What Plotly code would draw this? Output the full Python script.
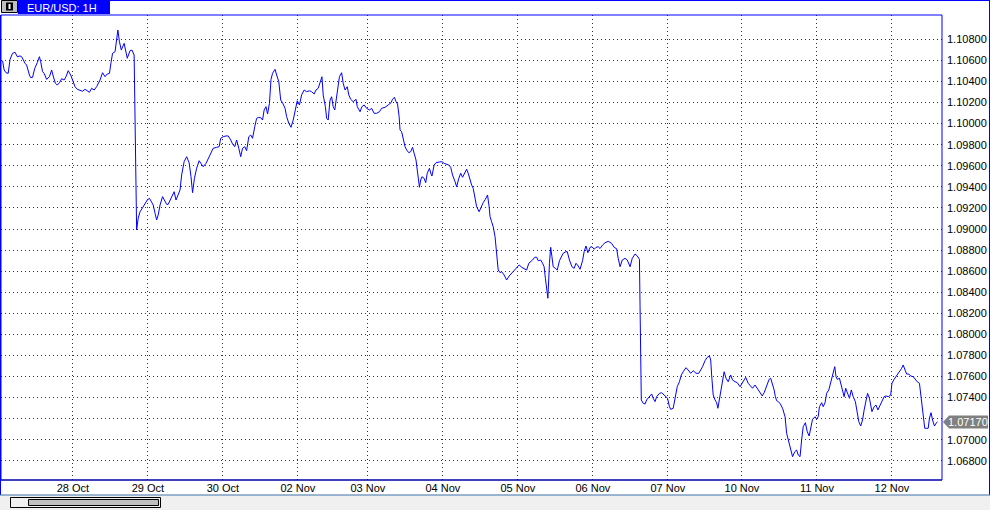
import plotly.graph_objects as go

# ---------------- data ----------------
# x: hourly bar position, y: EUR/USD close
hours = [
 0.5,1.0,1.6,2.3,2.9,3.7,4.5,5.2,6.1,6.6,7.7,8.2,9.1,9.5,10.1,10.8,11.6,12.3,12.7,13.3,
 13.8,14.6,15.5,16.2,16.7,17.4,18.0,18.7,19.4,20.2,20.8,21.5,22.3,22.9,23.7,24.4,25.3,26.1,26.9,27.6,
 28.3,29.0,29.8,30.6,31.7,32.5,33.3,34.0,34.7,35.2,35.7,36.5,37.0,37.4,37.9,38.5,39.4,39.8,40.4,41.3,
 41.9,42.6,42.8,43.0,43.4,43.9,44.5,45.3,46.1,46.8,47.5,48.0,48.7,49.3,49.8,50.3,50.9,51.7,52.5,53.0,
 53.5,54.3,55.4,56.0,56.7,57.3,57.8,58.6,59.4,60.2,60.8,61.3,61.9,62.6,63.4,64.0,64.7,65.6,66.3,67.1,
 67.9,69.0,69.8,70.3,71.1,72.0,72.7,73.5,74.1,74.8,75.4,76.1,76.7,77.3,78.0,78.6,79.3,79.9,80.5,81.2,
 81.8,82.5,83.1,83.7,84.2,84.8,85.3,85.9,86.4,86.9,87.7,88.2,88.9,89.5,90.1,90.9,91.4,92.1,92.8,93.5,
 94.2,94.8,95.5,96.2,97.0,97.8,98.7,99.4,100.2,100.8,101.5,102.1,102.7,103.1,103.8,104.2,104.7,105.1,105.3,105.8,
 106.3,106.8,107.4,108.3,109.0,109.5,110.1,110.8,111.3,111.9,112.7,113.6,114.0,114.9,115.5,116.2,117.0,117.9,118.6,119.4,
 120.2,121.1,121.8,122.9,123.9,124.8,125.3,125.9,126.4,126.9,127.4,127.7,128.2,128.7,129.3,129.8,130.5,131.1,131.7,132.2,
 132.8,133.2,133.7,133.9,134.3,134.7,135.4,135.9,136.4,137.1,137.6,137.9,138.6,139.2,140.3,141.1,141.8,142.6,143.3,143.9,
 144.5,145.3,145.8,146.5,147.1,147.7,148.5,149.0,149.5,150.1,150.6,151.1,151.7,152.2,153.0,153.6,154.3,155.0,155.7,156.2,
 156.5,157.0,157.5,158.1,158.6,159.1,159.7,160.2,161.0,161.8,162.6,163.4,164.3,165.0,165.8,166.6,167.4,168.2,168.9,169.5,
 170.1,170.8,171.4,171.9,172.7,173.3,173.8,174.2,174.6,175.0,175.5,175.9,176.3,176.7,177.4,178.0,178.7,179.3,179.9,180.8,
 181.2,181.9,182.7,183.4,184.0,184.7,185.3,186.1,186.6,187.2,187.8,188.5,189.1,189.8,190.4,191.1,191.7,192.5,193.3,194.3,
 195.4,196.2,197.0,197.5,198.1,198.8,199.7,200.4,201.3,202.0,202.9,203.6,204.3,204.5,204.7,204.9,205.5,206.1,206.6,207.1,
 207.7,208.2,208.7,209.3,209.8,210.7,211.4,212.2,212.8,213.3,213.9,214.3,215.1,215.8,216.4,217.1,217.7,218.3,219.2,219.9,
 220.7,221.5,222.4,223.3,224.0,224.5,225.3,226.0,226.7,227.1,227.4,227.9,228.5,229.0,229.4,229.9,230.3,230.9,231.4,232.0,
 232.7,233.5,234.1,234.9,235.6,236.5,237.3,238.3,239.1,239.9,240.5,241.3,242.0,242.9,243.6,244.2,244.7,245.2,245.8,246.3,
 246.8,247.4,247.8,248.2,248.7,249.3,250.1,250.9,251.4,252.1,252.7,253.3,254.0,254.6,255.1,255.7,256.2,256.7,257.4,258.0,
 258.6,259.1,259.7,260.5,261.0,261.5,261.9,262.6,263.1,263.7,264.2,264.9,265.3,265.8,266.3,266.8,267.2,267.6,268.3,268.7,
 269.2,269.8,270.3,270.8,271.5,272.1,272.7,273.4,273.8,274.5,275.1,275.7,276.2,276.8,277.3,277.9,278.3,278.7,279.4,280.0,
 280.6,281.3,281.9,282.6,283.2,283.9,284.7,285.1,285.8,286.4,287.1,287.7,288.2,288.7,289.3,289.8,290.5,291.1,291.9,292.6,
 293.2,293.9,294.3,294.7,295.1,295.6,296.2,296.7,297.1,297.6,298.1,298.7,299.2,299.7,
]
prices = [
 1.10597,1.10509,1.10483,1.10477,1.10610,1.10667,1.10677,1.10635,1.10642,1.10635,1.10572,1.10556,1.10461,1.10436,1.10439,1.10525,1.10578,1.10635,1.10587,1.10493,
 1.10477,1.10420,1.10445,1.10509,1.10452,1.10383,1.10366,1.10388,1.10426,1.10414,1.10445,1.10502,1.10461,1.10407,1.10350,1.10326,1.10312,1.10307,1.10326,1.10307,
 1.10297,1.10335,1.10319,1.10350,1.10414,1.10483,1.10445,1.10471,1.10477,1.10578,1.10667,1.10682,1.10809,1.10888,1.10777,1.10698,1.10762,1.10705,1.10620,1.10692,
 1.10698,1.10651,1.10098,1.09529,1.08991,1.09102,1.09164,1.09202,1.09244,1.09275,1.09291,1.09259,1.09228,1.09149,1.09086,1.09133,1.09228,1.09307,1.09259,1.09234,
 1.09234,1.09291,1.09354,1.09275,1.09323,1.09370,1.09512,1.09639,1.09686,1.09629,1.09496,1.09345,1.09481,1.09576,1.09648,1.09623,1.09591,1.09623,1.09671,1.09724,
 1.09766,1.09775,1.09781,1.09861,1.09876,1.09883,1.09883,1.09845,1.09807,1.09781,1.09845,1.09766,1.09686,1.09766,1.09781,1.09743,1.09876,1.09892,1.09861,1.09971,
 1.10050,1.10060,1.10056,1.10034,1.10129,1.10161,1.10091,1.10193,1.10420,1.10477,1.10515,1.10461,1.10398,1.10224,1.10198,1.10145,1.10066,1.10003,1.09965,1.10034,
 1.10129,1.10217,1.10177,1.10272,1.10319,1.10303,1.10312,1.10303,1.10281,1.10319,1.10335,1.10398,1.10445,1.10272,1.10161,1.10050,1.10034,1.10167,1.10224,1.10255,
 1.10161,1.10129,1.10272,1.10445,1.10483,1.10383,1.10319,1.10350,1.10272,1.10231,1.10208,1.10231,1.10161,1.10113,1.10161,1.10177,1.10145,1.10129,1.10145,1.10098,
 1.10098,1.10113,1.10145,1.10155,1.10177,1.10198,1.10231,1.10250,1.10208,1.10186,1.10066,1.09939,1.09923,1.09861,1.09781,1.09750,1.09724,1.09734,1.09775,1.09718,
 1.09655,1.09560,1.09449,1.09396,1.09465,1.09496,1.09481,1.09439,1.09529,1.09576,1.09522,1.09503,1.09607,1.09629,1.09636,1.09639,1.09623,1.09617,1.09607,1.09586,
 1.09512,1.09449,1.09401,1.09481,1.09529,1.09491,1.09544,1.09567,1.09529,1.09465,1.09418,1.09386,1.09307,1.09212,1.09164,1.09212,1.09250,1.09282,1.09323,1.09212,
 1.09117,1.09069,1.09022,1.08927,1.08785,1.08611,1.08586,1.08595,1.08564,1.08516,1.08554,1.08580,1.08611,1.08637,1.08659,1.08637,1.08627,1.08611,1.08675,1.08690,
 1.08706,1.08732,1.08732,1.08699,1.08706,1.08675,1.08642,1.08532,1.08421,1.08343,1.08675,1.08826,1.08737,1.08642,1.08627,1.08611,1.08699,1.08737,1.08770,1.08785,
 1.08785,1.08706,1.08642,1.08627,1.08675,1.08649,1.08618,1.08699,1.08785,1.08839,1.08775,1.08826,1.08832,1.08808,1.08826,1.08832,1.08815,1.08848,1.08870,1.08883,
 1.08864,1.08826,1.08813,1.08722,1.08642,1.08706,1.08722,1.08706,1.08642,1.08722,1.08763,1.08744,1.08713,1.08263,1.07789,1.07378,1.07346,1.07340,1.07378,1.07394,
 1.07409,1.07435,1.07394,1.07362,1.07409,1.07441,1.07447,1.07425,1.07416,1.07394,1.07314,1.07289,1.07299,1.07394,1.07504,1.07551,1.07615,1.07646,1.07684,1.07662,
 1.07631,1.07656,1.07631,1.07631,1.07662,1.07694,1.07751,1.07783,1.07795,1.07757,1.07615,1.07425,1.07378,1.07352,1.07299,1.07378,1.07441,1.07536,1.07646,1.07584,
 1.07551,1.07615,1.07567,1.07551,1.07542,1.07504,1.07542,1.07593,1.07536,1.07504,1.07489,1.07520,1.07489,1.07456,1.07416,1.07447,1.07489,1.07520,1.07574,1.07584,
 1.07536,1.07473,1.07409,1.07371,1.07362,1.07346,1.07299,1.07219,1.07062,1.06982,1.06935,1.06840,1.06887,1.06903,1.06856,1.06840,1.06998,1.07124,1.07162,1.07077,
 1.07036,1.07124,1.07195,1.07219,1.07195,1.07219,1.07314,1.07352,1.07314,1.07352,1.07441,1.07473,1.07520,1.07599,1.07646,1.07694,1.07599,1.07574,1.07584,1.07536,
 1.07473,1.07409,1.07489,1.07441,1.07394,1.07473,1.07409,1.07362,1.07283,1.07172,1.07131,1.07188,1.07283,1.07378,1.07441,1.07394,1.07330,1.07267,1.07314,1.07330,
 1.07283,1.07330,1.07378,1.07409,1.07416,1.07409,1.07425,1.07536,1.07574,1.07599,1.07631,1.07646,1.07678,1.07710,1.07662,1.07624,1.07624,1.07605,1.07599,1.07567,
 1.07551,1.07536,1.07441,1.07362,1.07219,1.07109,1.07109,1.07109,1.07204,1.07257,1.07188,1.07131,1.07157,1.07170,
]

day_positions = [23.0, 47.0, 71.0, 95.0, 117.4, 141.4, 165.4, 189.4, 213.4, 237.1, 261.1, 285.1]
day_labels = ["28 Oct", "29 Oct", "30 Oct", "02 Nov", "03 Nov", "04 Nov",
              "05 Nov", "06 Nov", "07 Nov", "10 Nov", "11 Nov", "12 Nov"]
price_ticks = [round(1.068 + 0.002 * k, 3) for k in range(21)]
last_price = 1.07170
symbol_title = "EUR/USD: 1H"
# the label hidden behind the last-price tag is left blank
price_tick_labels = ["" if abs(v - last_price) < 0.001 else f"{v:.5f}" for v in price_ticks]

# ---------------- layout helpers (pixel -> paper) ----------------
W, H = 990, 510
L, R, T, B = 1, 48, 15, 30
PW, PH = W - L - R, H - T - B


def px(x):
    return (x - L) / PW


def py(y):
    return (H - B - y) / PH


BLUE = "#0000FF"
FONT = "Liberation Sans, Arial, sans-serif"

fig = go.Figure()
fig.add_trace(go.Scatter(x=hours, y=prices, mode="lines",
                         line=dict(color=BLUE, width=1), hoverinfo="skip"))

shapes = []
# plot frame
shapes.append(dict(type="rect", xref="paper", yref="paper", x0=0, x1=1, y0=0, y1=1,
                   line=dict(color=BLUE, width=1), layer="above"))
shapes.append(dict(type="line", xref="paper", yref="paper", x0=px(0), x1=1, y0=0, y1=0,
                   line=dict(color="#000080", width=1)))
# outer borders
shapes.append(dict(type="line", xref="paper", yref="paper", x0=px(989.5), x1=px(989.5),
                   y0=py(0), y1=py(495), line=dict(color=BLUE, width=1)))
shapes.append(dict(type="line", xref="paper", yref="paper", x0=px(0.5), x1=px(0.5),
                   y0=py(15), y1=py(495), line=dict(color=BLUE, width=1)))
shapes.append(dict(type="line", xref="paper", yref="paper", x0=px(110), x1=px(990),
                   y0=py(0.5), y1=py(0.5), line=dict(color=BLUE, width=1)))
# bottom gray strip and separator
shapes.append(dict(type="rect", xref="paper", yref="paper", x0=px(0), x1=px(990),
                   y0=py(495.5), y1=py(511), fillcolor="#F0F0F0", line=dict(width=0)))
shapes.append(dict(type="line", xref="paper", yref="paper", x0=px(0), x1=px(990),
                   y0=py(495), y1=py(495), line=dict(color="#3A6EA5", width=1)))
# scrollbar
shapes.append(dict(type="rect", xref="paper", yref="paper", x0=px(10.5), x1=px(160.5),
                   y0=py(497.5), y1=py(507.5), fillcolor="#F0F0F0",
                   line=dict(color="#000000", width=1)))
shapes.append(dict(type="rect", xref="paper", yref="paper", x0=px(28.5), x1=px(158.5),
                   y0=py(499.5), y1=py(505.5), fillcolor="#C0C0C0",
                   line=dict(color="#000000", width=1)))
# header: icon and tab
shapes.append(dict(type="rect", xref="paper", yref="paper", x0=px(1.5), x1=px(17.5),
                   y0=py(0.5), y1=py(12.5), fillcolor="#C0C0C0",
                   line=dict(color="#000000", width=1)))
shapes.append(dict(type="rect", xref="paper", yref="paper", x0=px(6), x1=px(13),
                   y0=py(2.5), y1=py(10.5), fillcolor="#000000", line=dict(width=0)))
shapes.append(dict(type="rect", xref="paper", yref="paper", x0=px(8.5), x1=px(10.5),
                   y0=py(4), y1=py(9), fillcolor="#FFFFFF", line=dict(width=0)))
shapes.append(dict(type="rect", xref="paper", yref="paper", x0=px(18), x1=px(110),
                   y0=py(0), y1=py(14), fillcolor=BLUE, line=dict(width=0)))
# last price tag
shapes.append(dict(type="path", xref="paper", yref="y", xsizemode="pixel", ysizemode="pixel",
                   xanchor=1, yanchor=last_price,
                   path="M 1 0 L 7 6.5 L 46 6.5 L 46 -6.5 L 7 -6.5 Z",
                   fillcolor="#808080", line=dict(width=0)))

annotations = [
    dict(xref="paper", yref="paper", x=px(25), y=py(7.5), xanchor="left", yanchor="middle",
         text=symbol_title, showarrow=False, font=dict(family=FONT, size=11, color="#FFFFFF")),
    dict(xref="paper", yref="y", x=1, y=last_price, xshift=26, xanchor="center",
         yanchor="middle", text=f"{last_price:.5f}", showarrow=False,
         font=dict(family=FONT, size=11, color="#FFFFFF")),
]

fig.update_layout(
    width=W, height=H,
    margin=dict(l=L, r=R, t=T, b=B, pad=0),
    paper_bgcolor="#FFFFFF", plot_bgcolor="#FFFFFF",
    showlegend=False,
    font=dict(family=FONT, size=11, color="#000000"),
    shapes=shapes, annotations=annotations,
    xaxis=dict(range=[0, PW * 0.32], tickmode="array", tickvals=day_positions,
               ticktext=day_labels, showgrid=True, gridcolor="#303030", gridwidth=1,
               griddash="1px,3px", zeroline=False, showline=False, ticks="",
               tickfont=dict(family=FONT, size=11, color="#000000"), fixedrange=True),
    yaxis=dict(range=[1.066186, 1.110306], side="right", tickmode="array",
               tickvals=price_ticks, ticktext=price_tick_labels, showgrid=True,
               gridcolor="#303030", gridwidth=1, griddash="1px,3px", zeroline=False,
               showline=False, ticks="", ticklabelstandoff=4,
               tickfont=dict(family=FONT, size=11, color="#000000"), fixedrange=True),
)

fig.write_html("out.html", config={"displayModeBar": False},
               post_script="document.body.style.margin='0';document.body.style.overflow='hidden';")
